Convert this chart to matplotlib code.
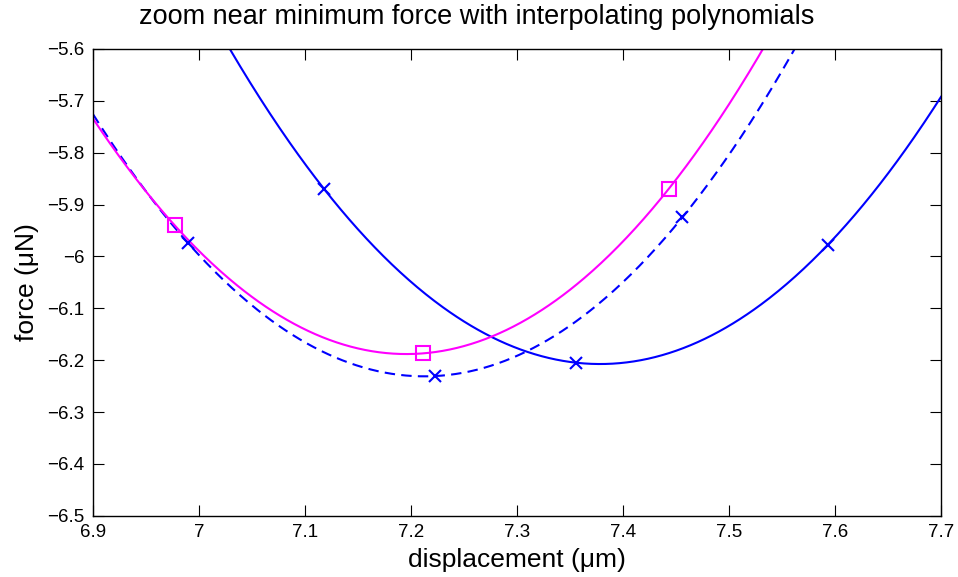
import numpy as np
import matplotlib
matplotlib.use("Agg")
import matplotlib.pyplot as plt

plt.rcParams['font.family'] = ['Liberation Sans', 'DejaVu Sans']

# sample points (displacement in um, force in uN)
mag_x = [6.977, 7.211, 7.443]
mag_y = [-5.940, -6.187, -5.870]

dash_x = [6.990, 7.2226, 7.456]
dash_y = [-5.975, -6.2307, -5.9246]

solid_x = [7.118, 7.356, 7.593]
solid_y = [-5.870, -6.205, -5.978]

x_ticks = [6.9, 7.0, 7.1, 7.2, 7.3, 7.4, 7.5, 7.6, 7.7]
x_tick_labels = ['6.9', '7', '7.1', '7.2', '7.3', '7.4', '7.5', '7.6', '7.7']
y_ticks = [-6.5, -6.4, -6.3, -6.2, -6.1, -6.0, -5.9, -5.8, -5.7, -5.6]
y_tick_labels = ['\u22126.5', '\u22126.4', '\u22126.3', '\u22126.2', '\u22126.1',
                 '\u22126', '\u22125.9', '\u22125.8', '\u22125.7', '\u22125.6']

fig = plt.figure(figsize=(9.58, 5.77), dpi=100)
ax = fig.add_axes([0.0971, 0.1062, 0.8852, 0.8089])

xx = np.linspace(6.9, 7.7, 600)

def interp_poly(px, py):
    c = np.polyfit(px, py, 2)
    return np.polyval(c, xx)

# interpolating quadratics
ax.plot(xx, interp_poly(dash_x, dash_y), color='#0000ff', lw=1.5, dashes=(5, 3))
ax.plot(xx, interp_poly(solid_x, solid_y), color='#0000ff', lw=1.5)
ax.plot(xx, interp_poly(mag_x, mag_y), color='#ff00ff', lw=1.5)

# sample markers
ax.plot(dash_x, dash_y, 'x', color='#0000ff', ms=8.5, mew=1.5)
ax.plot(solid_x, solid_y, 'x', color='#0000ff', ms=8.5, mew=1.5)
ax.plot(mag_x, mag_y, 's', color='#ff00ff', ms=9.5, mew=1.5, mfc='none')

ax.set_xlim(6.9, 7.7)
ax.set_ylim(-6.5, -5.6)
ax.set_xticks(x_ticks)
ax.set_xticklabels(x_tick_labels)
ax.set_yticks(y_ticks)
ax.set_yticklabels(y_tick_labels)
ax.tick_params(direction='in', length=8, width=0.8, top=True, right=True,
               labelsize=13.5, colors='black')
ax.tick_params(axis='x', pad=6)
ax.tick_params(axis='y', pad=6)
for s in ax.spines.values():
    s.set_linewidth(1.0)

ax.set_xlabel('displacement (\u03bcm)', fontsize=19, labelpad=5)
ax.set_ylabel('force (\u03bcN)', fontsize=19, labelpad=6)
ax.set_title('zoom near minimum force with interpolating polynomials',
             fontsize=19.5, pad=18, x=0.453)

fig.savefig('out.png', dpi=100)
